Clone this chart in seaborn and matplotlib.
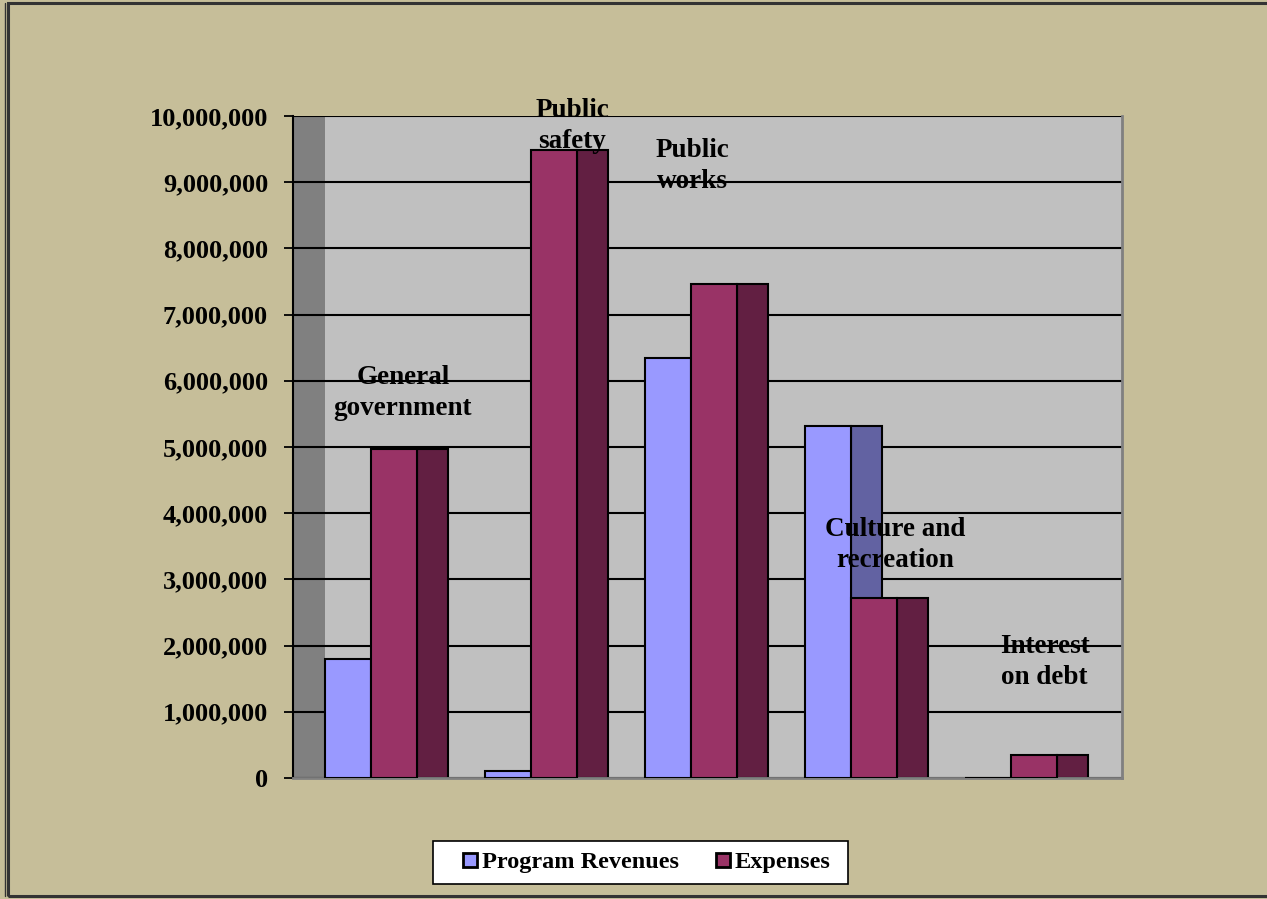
import pandas as pd
import matplotlib.pyplot as plt
import seaborn as sns
from matplotlib.ticker import FuncFormatter, MultipleLocator
from matplotlib.lines import Line2D
from matplotlib.patches import Rectangle

# chart data
categories = ["General government", "Public safety", "Public works",
              "Culture and recreation", "Interest on debt"]
revenues = [1800000, 100000, 6350000, 5310000, 0]
expenses = [4970000, 9490000, 7460000, 2720000, 350000]
series_names = ["Program Revenues", "Expenses"]

# category label text as drawn in the chart
cat_labels = ["General\ngovernment", "Public\nsafety", "Public\nworks",
              "Culture and\nrecreation", "Interest\non debt"]

df = pd.DataFrame({
    "category": categories * 2,
    "series": [series_names[0]] * 5 + [series_names[1]] * 5,
    "value": revenues + expenses,
})

front_colors = ["#9999FF", "#993366"]
side_colors = ["#6262A2", "#621F42"]
bg = "#C6BE99"

sns.set_style("white")
plt.rcParams["font.family"] = ["Liberation Serif", "DejaVu Serif"]
plt.rcParams["font.weight"] = "bold"
plt.rcParams["text.color"] = "black"
plt.rcParams["ytick.labelcolor"] = "black"
plt.rcParams["ytick.color"] = "black"

W, H = 1267, 899
fig = plt.figure(figsize=(W / 100, H / 100), dpi=100, facecolor=bg)
ax = fig.add_axes([293 / W, (H - 778) / H, (1122 - 293) / W, (778 - 116) / H])
ax.set_facecolor("#C0C0C0")

sns.barplot(data=df, x="category", y="value", hue="series", palette=front_colors,
            width=0.575, edgecolor="black", linewidth=1.5, legend=False,
            saturation=1, ax=ax, zorder=3)

# depth faces of the 3-D bars
depth = 31 / 160
bars = list(ax.patches)
for i, p in enumerate(bars):
    k = 0 if i < len(categories) else 1
    ax.bar(p.get_x() + p.get_width(), p.get_height(), width=depth, align="edge",
           color=side_colors[k], edgecolor="black", linewidth=1.5, zorder=2.5)

# left wall
ax.axvspan(-0.4875, -0.2875, color="#808080", zorder=0.5, lw=0)

ax.set_xlim(-0.4875, 4.69375)
ax.set_ylim(0, 10000000)
ax.yaxis.set_major_locator(MultipleLocator(1000000))
ax.yaxis.set_major_formatter(FuncFormatter(lambda v, p: f"{v:,.0f}"))
ax.yaxis.grid(True, color="black", lw=1.5, zorder=1)
ax.set_axisbelow(True)
ax.tick_params(axis="y", left=True, length=6.5, width=1.3, pad=11.5,
               labelsize=19, color="black", labelcolor="black")
ax.tick_params(axis="x", bottom=False, labelbottom=False)
for lbl in ax.get_yticklabels():
    lbl.set_fontweight("bold")
ax.set_xlabel("")
ax.set_ylabel("")

ax.spines["left"].set_color("black")
ax.spines["left"].set_linewidth(1.5)
ax.spines["top"].set_visible(False)
ax.spines["right"].set_color("#808080")
ax.spines["right"].set_linewidth(2)
ax.spines["bottom"].set_color("#808080")
ax.spines["bottom"].set_linewidth(2)

# category labels
label_pos = [(0.2, 5820000), (1.256, 9850000), (2.006, 9240000),
             (3.275, 3520000), (4.21, 1750000)]
for txt, (x, y) in zip(cat_labels, label_pos):
    ax.text(x, y, txt, ha="center", va="center", fontsize=19.5, fontweight="bold",
            color="black", linespacing=1.3, zorder=6, clip_on=False)

# legend box
fig.patches.append(Rectangle((433 / W, 1 - 884 / H), (848 - 433) / W, 43 / H,
                             transform=fig.transFigure, facecolor="white",
                             edgecolor="black", lw=1.2, zorder=4))
handles = [Line2D([], [], marker="s", ls="", markersize=10.5, markerfacecolor=c,
                  markeredgecolor="black", markeredgewidth=2) for c in front_colors]
leg = fig.legend(handles, series_names, loc="center", bbox_to_anchor=(645 / W, 1 - 862 / H),
                 ncol=2, frameon=False, prop={"size": 17.5, "weight": "bold"},
                 handletextpad=0.05, handlelength=0.85, columnspacing=1.4,
                 borderaxespad=0)
leg.set_zorder(5)
for t in leg.get_texts():
    t.set_color("black")

# outer border
fig.patches.append(Rectangle((8 / W, 3 / H), 1.0, (896 - 3) / H, transform=fig.transFigure,
                             fill=False, edgecolor="#333333", lw=2.2))
fig.lines.append(Line2D([5 / W, 5 / W], [3 / H, 1 - 3 / H], transform=fig.transFigure,
                        color="#333333", lw=1))

fig.savefig("out.png", dpi=100, facecolor=bg)
